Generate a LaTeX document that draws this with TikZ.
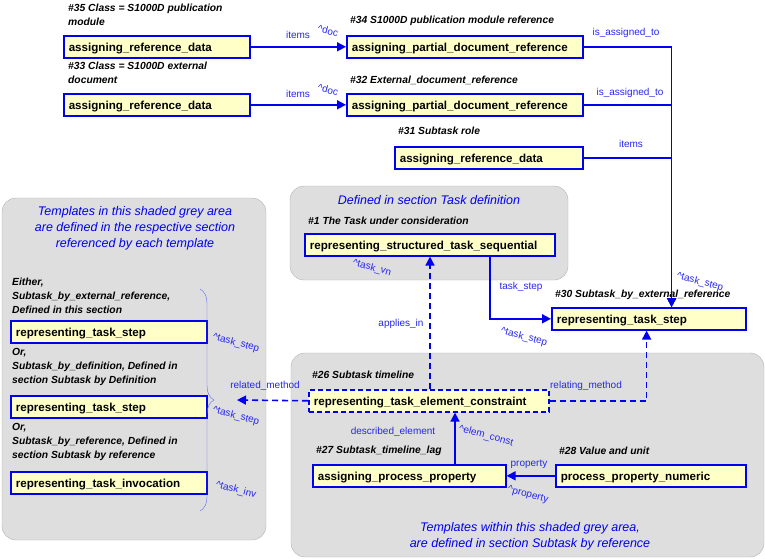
\documentclass[tikz,border=0pt]{standalone}
\usepackage{fontspec}
\setmainfont{Liberation Sans}
\usetikzlibrary{positioning,arrows.meta,decorations.pathreplacing}
\definecolor{lnblue}{RGB}{0,0,240}
\definecolor{boxfill}{RGB}{255,255,200}
\definecolor{areagrey}{RGB}{222,222,222}
\tikzset{
  box/.style={draw=lnblue, fill=boxfill, line width=1.6pt, anchor=north west, inner sep=0pt,
    text width=#1pt, minimum height=22pt, text depth=0pt, font=\fontsize{11.6}{13}\selectfont\bfseries, align=left},
  dbox/.style={box=#1, dash pattern=on 5pt off 3pt},
  ttl/.style={anchor=west, font=\fontsize{10.3}{14}\selectfont\bfseries\itshape, align=left, inner sep=0pt},
  lbl/.style={text=lnblue!85, font=\fontsize{10}{12}\selectfont, inner sep=0pt},
  rlbl/.style={lbl, rotate=-15},
  area/.style={fill=areagrey, draw=gray!60, rounded corners=14pt},
  conn/.style={draw=lnblue, line width=1.6pt, -{Triangle[length=9pt,width=9pt]}},
  dconn/.style={conn, dash pattern=on 6pt off 4pt},
  note/.style={text=lnblue, font=\fontsize{12.5}{16}\selectfont\itshape, align=center, inner sep=0pt}
}
\begin{document}
\begin{tikzpicture}[x=1pt,y=-1pt]
  \useasboundingbox (0,0) rectangle (765,559);
  % shaded areas
  \draw[area] (2,198) rectangle (266,540);
  \draw[area] (290,186) rectangle (568,280);
  \draw[area] (291,353) rectangle (764,557);
  \node[note] at (135,228) {Templates in this shaded grey area\\are defined in the respective section\\referenced by each template};
  \node[note] at (429,200) {Defined in section Task definition};
  \node[note] at (530,536) {Templates within this shaded grey area,\\are defined in section Subtask by reference};

  % top templates
  \node[ttl] at (68,15) {\#35 Class = S1000D publication\\module};
  \node[box=186] (b35) at (63,35) {\hspace*{5pt}assigning\_reference\_data};
  \node[ttl] at (350,21) {\#34 S1000D publication module reference};
  \node[box=236] (b34) at (346,35) {\hspace*{5pt}assigning\_partial\_document\_reference};
  \node[ttl] at (68,73) {\#33 Class = S1000D external\\document};
  \node[box=186] (b33) at (63,93) {\hspace*{5pt}assigning\_reference\_data};
  \node[ttl] at (350,80) {\#32 External\_document\_reference};
  \node[box=236] (b32) at (346,93) {\hspace*{5pt}assigning\_partial\_document\_reference};
  \node[ttl] at (398,131) {\#31 Subtask role};
  \node[box=188] (b31) at (394,146) {\hspace*{5pt}assigning\_reference\_data};

  % task definition
  \node[ttl] at (308,221) {\#1 The Task under consideration};
  \node[box=250] (b1) at (304,233) {\hspace*{5pt}representing\_structured\_task\_sequential};
  \node[ttl] at (555,295) {\#30 Subtask\_by\_external\_reference};
  \node[box=194] (b30) at (551,307) {\hspace*{5pt}representing\_task\_step};

  % subtask by reference
  \node[ttl] at (312,375) {\#26 Subtask timeline};
  \node[dbox=240] (b26) at (308,389) {\hspace*{5pt}representing\_task\_element\_constraint};
  \node[ttl] at (316,451) {\#27 Subtask\_timeline\_lag};
  \node[box=193] (b27) at (312,464) {\hspace*{5pt}assigning\_process\_property};
  \node[ttl] at (559,451) {\#28 Value and unit};
  \node[box=190] (b28) at (555,464) {\hspace*{5pt}process\_property\_numeric};

  % left templates
  \node[ttl] at (12,296) {Either,\\Subtask\_by\_external\_reference,\\Defined in this section};
  \node[box=196] (l1) at (10,320) {\hspace*{5pt}representing\_task\_step};
  \node[ttl] at (12,367) {Or,\\Subtask\_by\_definition, Defined in\\section Subtask by Definition};
  \node[box=196] (l2) at (10,395) {\hspace*{5pt}representing\_task\_step};
  \node[ttl] at (12,442) {Or,\\Subtask\_by\_reference, Defined in\\section Subtask by reference};
  \node[box=196] (l3) at (10,471) {\hspace*{5pt}representing\_task\_invocation};
  \draw[lnblue!60, decorate, decoration={brace, amplitude=14pt}] (200,289) -- (200,511);
  \coordinate (brtip) at (237,400);
  \node[rlbl] at (236,343) {\textasciicircum task\_step};
  \node[rlbl] at (236,416) {\textasciicircum task\_step};
  \node[rlbl] at (236,490) {\textasciicircum task\_inv};

  % connectors
  \draw[conn] (b35.east) -- (b34.west);
  \node[lbl] at (298,35) {items};
  \node[rlbl] at (328,31) {\textasciicircum doc};
  \draw[conn] (b33.east) -- (b32.west);
  \node[lbl] at (298,94) {items};
  \node[rlbl] at (328,90) {\textasciicircum doc};
  \draw[conn] (b34.east) -| ([xshift=-75pt]b30.north east);
  \node[lbl] at (626,33) {is\_assigned\_to};
  \draw[conn] (b32.east) -| ([xshift=-75pt]b30.north east);
  \node[lbl] at (630,93) {is\_assigned\_to};
  \draw[conn] (b31.east) -| ([xshift=-75pt]b30.north east);
  \node[lbl] at (631,144) {items};
  \node[rlbl] at (700,282) {\textasciicircum task\_step};
  \draw[conn] ([xshift=186pt]b1.south west) |- (b30.west);
  \node[lbl] at (521,287) {task\_step};
  \node[rlbl] at (524,337) {\textasciicircum task\_step};
  \draw[dconn] ([xshift=122pt]b26.north west) -- ([xshift=126pt]b1.south west);
  \node[lbl] at (401,324) {applies\_in};
  \node[rlbl] at (372,268) {\textasciicircum task\_vn};
  \draw[dconn] (b26.east) -| ([xshift=-100pt]b30.south east);
  \node[lbl] at (586,386) {relating\_method};
  \draw[dconn] (b26.west) -- (brtip);
  \node[lbl] at (265,386) {related\_method};
  \draw[conn] ([xshift=143pt]b27.north west) -- ([xshift=147pt]b26.south west);
  \node[lbl] at (393,432) {described\_element};
  \node[rlbl] at (486,436) {\textasciicircum elem\_const};
  \draw[conn] (b28.west) -- (b27.east);
  \node[lbl] at (529,464) {property};
  \node[rlbl] at (528,495) {\textasciicircum property};
\end{tikzpicture}
\end{document}
